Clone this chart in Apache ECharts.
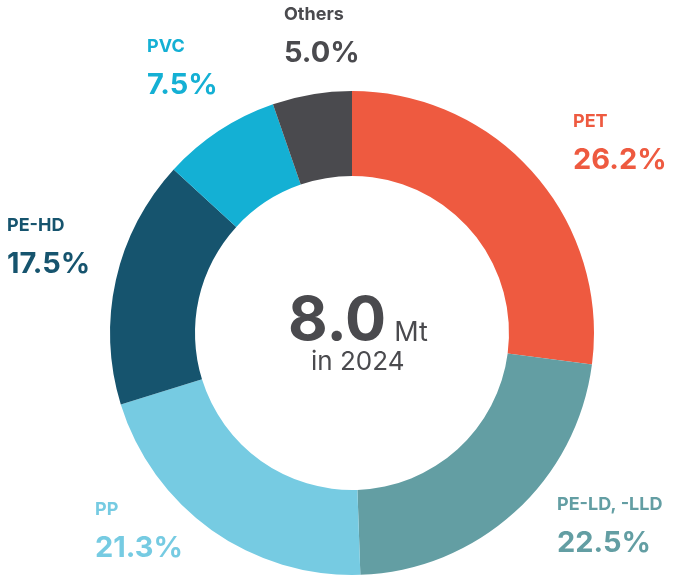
<!DOCTYPE html>
<html>
<head>
<meta charset="utf-8">
<script src="https://cdn.jsdelivr.net/npm/echarts@6/dist/echarts.min.js"></script>
<style>
  html, body { margin: 0; padding: 0; background: #fff; }
  #chart { width: 688px; height: 579px; }
</style>
</head>
<body>
<div id="chart"></div>
<script>
const categories = ['PET', 'PE-LD, -LLD', 'PP', 'PE-HD', 'PVC', 'Others']
// printed shares
const shares = [26.2, 22.5, 21.3, 17.5, 7.5, 5.0]
// slice sizes as drawn in the original (measured from the arc angles)
const sliceSizes = [27.1, 22.4, 20.8, 16.6, 7.9, 5.3]
const total = '8.0'
const totalUnit = 'Mt'
const totalYear = 'in 2024'

const colors = ['#ee5a40', '#639ea3', '#76cbe2', '#16546e', '#14b0d4', '#4a4a4e']
// top-left corner of each label block
const labelSpots = [
  [573, 107],
  [557, 490],
  [95, 495],
  [7, 211],
  [147, 32],
  [284, 0],
]

const chart = echarts.init(document.getElementById('chart'))

chart.setOption({
  animation: false,
  graphic: [
    {
      type: 'text',
      left: 288,
      top: 291,
      style: {
        text: '{big|' + total + '}{unit|' + totalUnit + '}',
        rich: {
          big: { fontFamily: 'Inter', fontSize: 61, fontWeight: 700, fill: '#4a4a4e' },
          unit: { fontFamily: 'Inter', fontSize: 27, fontWeight: 400, fill: '#4a4a4e', padding: [22, 0, 0, 8] },
        },
      },
    },
    {
      type: 'text',
      left: 311,
      top: 349,
      style: {
        text: totalYear,
        fontFamily: 'Inter',
        fontSize: 26,
        fill: '#4a4a4e',
      },
    },
  ],
  series: [
    {
      type: 'pie',
      center: [352, 333],
      radius: [157, 242],
      startAngle: 90,
      clockwise: true,
      label: {
        show: true,
        position: 'outside',
        overflow: 'none',
        formatter: (p) => '{name|' + p.name + '}\n{val|' + shares[p.dataIndex].toFixed(1) + '%}',
        rich: {
          name: { fontFamily: 'Inter', fontSize: 18, fontWeight: 700, lineHeight: 30 },
          val: { fontFamily: 'Inter', fontSize: 29, fontWeight: 700, lineHeight: 46 },
        },
      },
      labelLine: { show: false },
      labelLayout: (params) => {
        const spot = labelSpots[params.dataIndex]
        return { x: spot[0], y: spot[1], align: 'left', verticalAlign: 'top' }
      },
      emphasis: { disabled: true },
      data: categories.map((name, i) => ({
        name: name,
        value: sliceSizes[i],
        itemStyle: { color: colors[i] },
        label: { color: colors[i] },
      })),
    },
  ],
})
</script>
</body>
</html>
